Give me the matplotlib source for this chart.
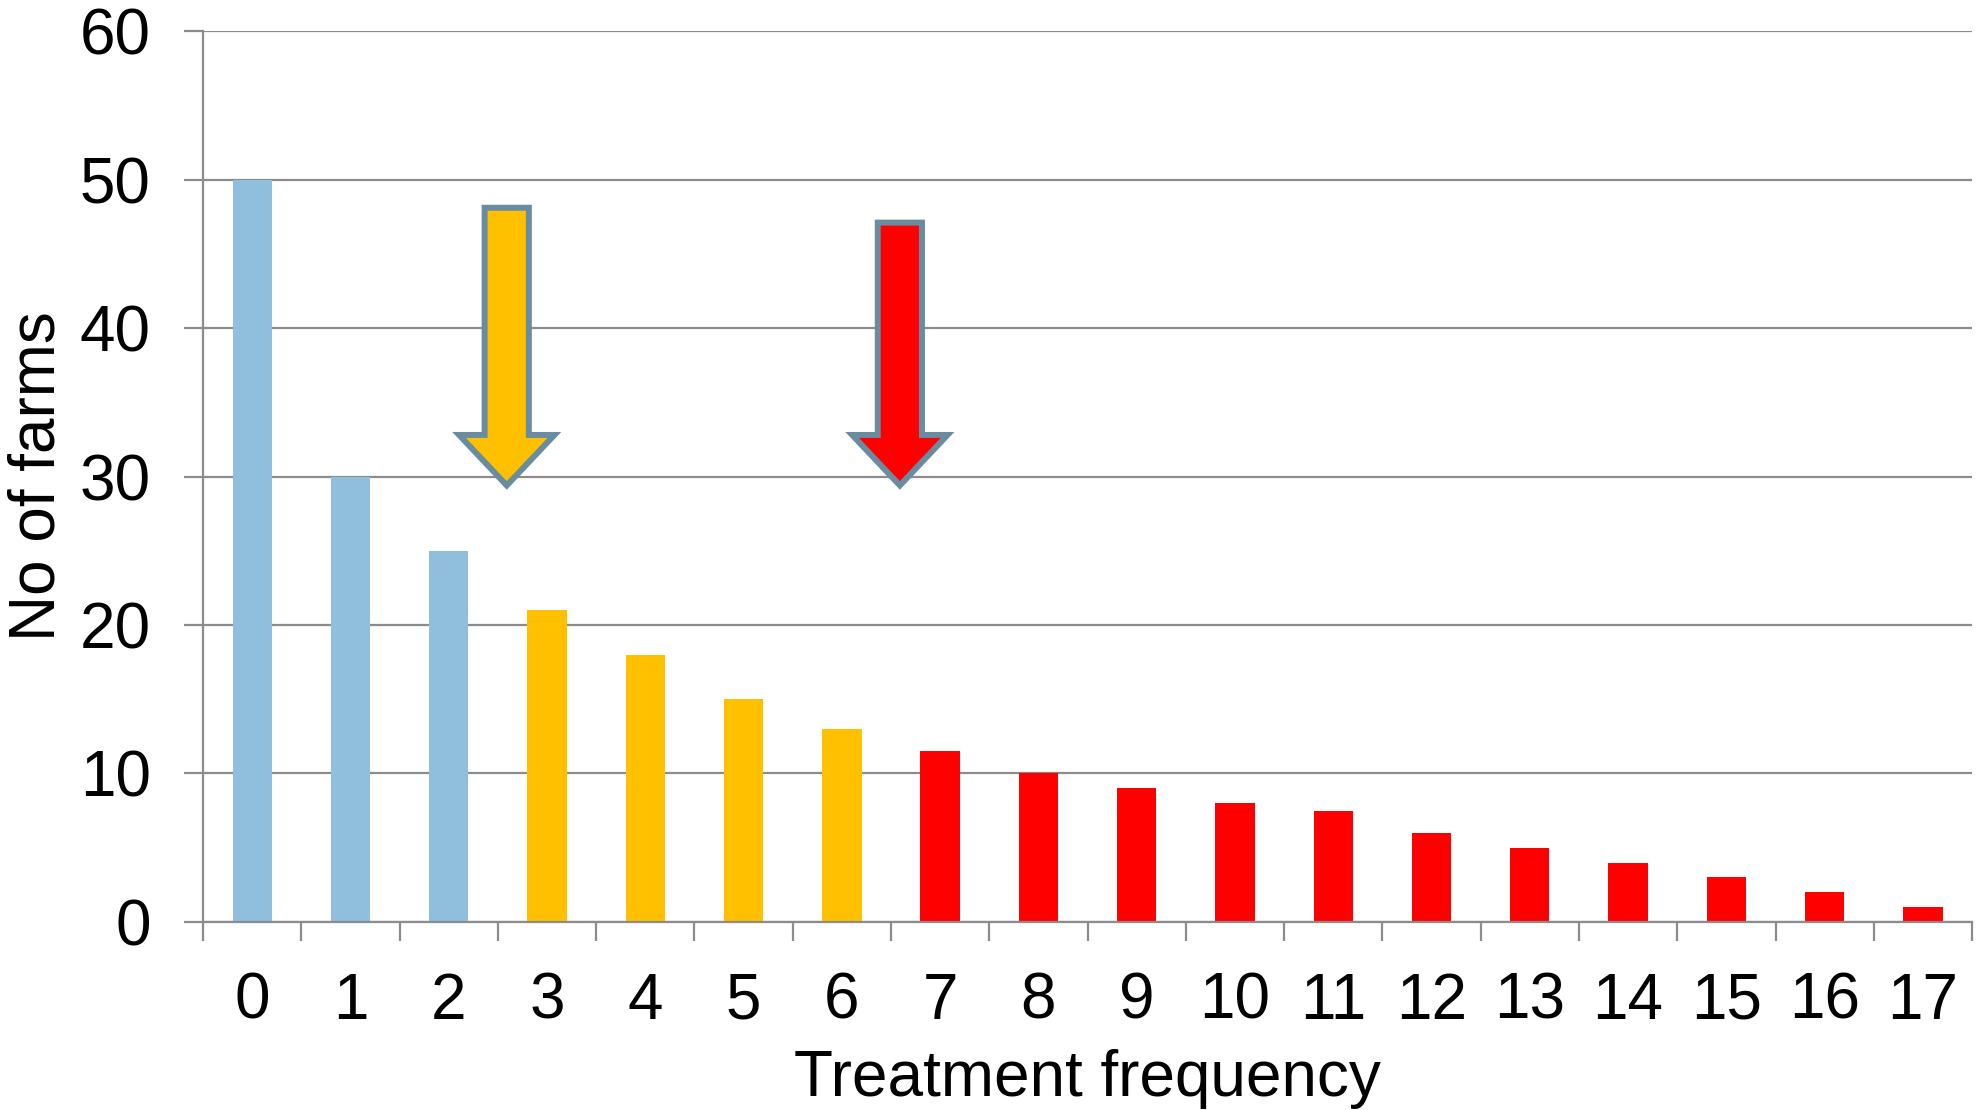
import matplotlib
matplotlib.use("Agg")
import matplotlib.pyplot as plt
from matplotlib.patches import Polygon
from matplotlib.ticker import FixedLocator

plt.rcParams['font.family'] = ['Liberation Sans', 'DejaVu Sans']

# ---- data ----
categories = [str(i) for i in range(18)]
values = [50, 30, 25, 21, 18, 15, 13, 11.5, 10, 9, 8, 7.5, 6, 5, 4, 3, 2, 1]
groups = ['low'] * 3 + ['mid'] * 4 + ['high'] * 11
group_colors = {'low': '#8FBFDC', 'mid': '#FFC000', 'high': '#FF0000'}
y_ticks = [0, 10, 20, 30, 40, 50, 60]
x_label = 'Treatment frequency'
y_label = 'No of farms'

# arrows: (center x, top y, head base y, tip y, fill colour)
arrows = [
    (2.59, 48.1, 32.8, 29.4, '#FFC000'),
    (6.59, 47.1, 32.8, 29.4, '#FF0000'),
]
shaft_w = 0.45
head_w = 0.97
arrow_edge = '#6A8CA0'

grid_col = '#8C8C8C'

fig = plt.figure(figsize=(19.81, 11.10), dpi=100)
ax = fig.add_axes([0.1025, 0.1694, 0.8930, 0.8026])

xs = list(range(len(categories)))
ax.bar(xs, values, width=0.4, color=[group_colors[g] for g in groups], zorder=2)

ax.set_xlim(-0.5, len(categories) - 0.5)
ax.set_ylim(0, 60)
ax.yaxis.set_major_locator(FixedLocator(y_ticks))
ax.set_xticks(xs)
ax.set_xticklabels(categories)
ax.xaxis.set_minor_locator(FixedLocator([i - 0.5 for i in range(len(categories) + 1)]))

ax.grid(axis='y', color=grid_col, linewidth=1.6, zorder=0)
ax.set_axisbelow(True)
for s in ['top', 'right']:
    ax.spines[s].set_visible(False)
for s in ['left', 'bottom']:
    ax.spines[s].set_color(grid_col)
    ax.spines[s].set_linewidth(1.6)

ax.tick_params(axis='y', length=13.7, width=1.6, color=grid_col, labelsize=46, pad=24)
ax.tick_params(axis='x', which='major', length=0, labelsize=46, pad=36)
ax.tick_params(axis='x', which='minor', length=13.7, width=1.6, color=grid_col)

ax.set_xlabel(x_label, fontsize=46, labelpad=12)
ax.set_ylabel(y_label, fontsize=46, labelpad=9)

for cx, top, base, tip, col in arrows:
    pts = [
        (cx - shaft_w / 2, top), (cx + shaft_w / 2, top),
        (cx + shaft_w / 2, base), (cx + head_w / 2, base),
        (cx, tip), (cx - head_w / 2, base), (cx - shaft_w / 2, base),
    ]
    ax.add_patch(Polygon(pts, closed=True, facecolor=col, edgecolor=arrow_edge,
                         linewidth=4.3, joinstyle='miter', zorder=5))

fig.savefig('out.png', dpi=100)
